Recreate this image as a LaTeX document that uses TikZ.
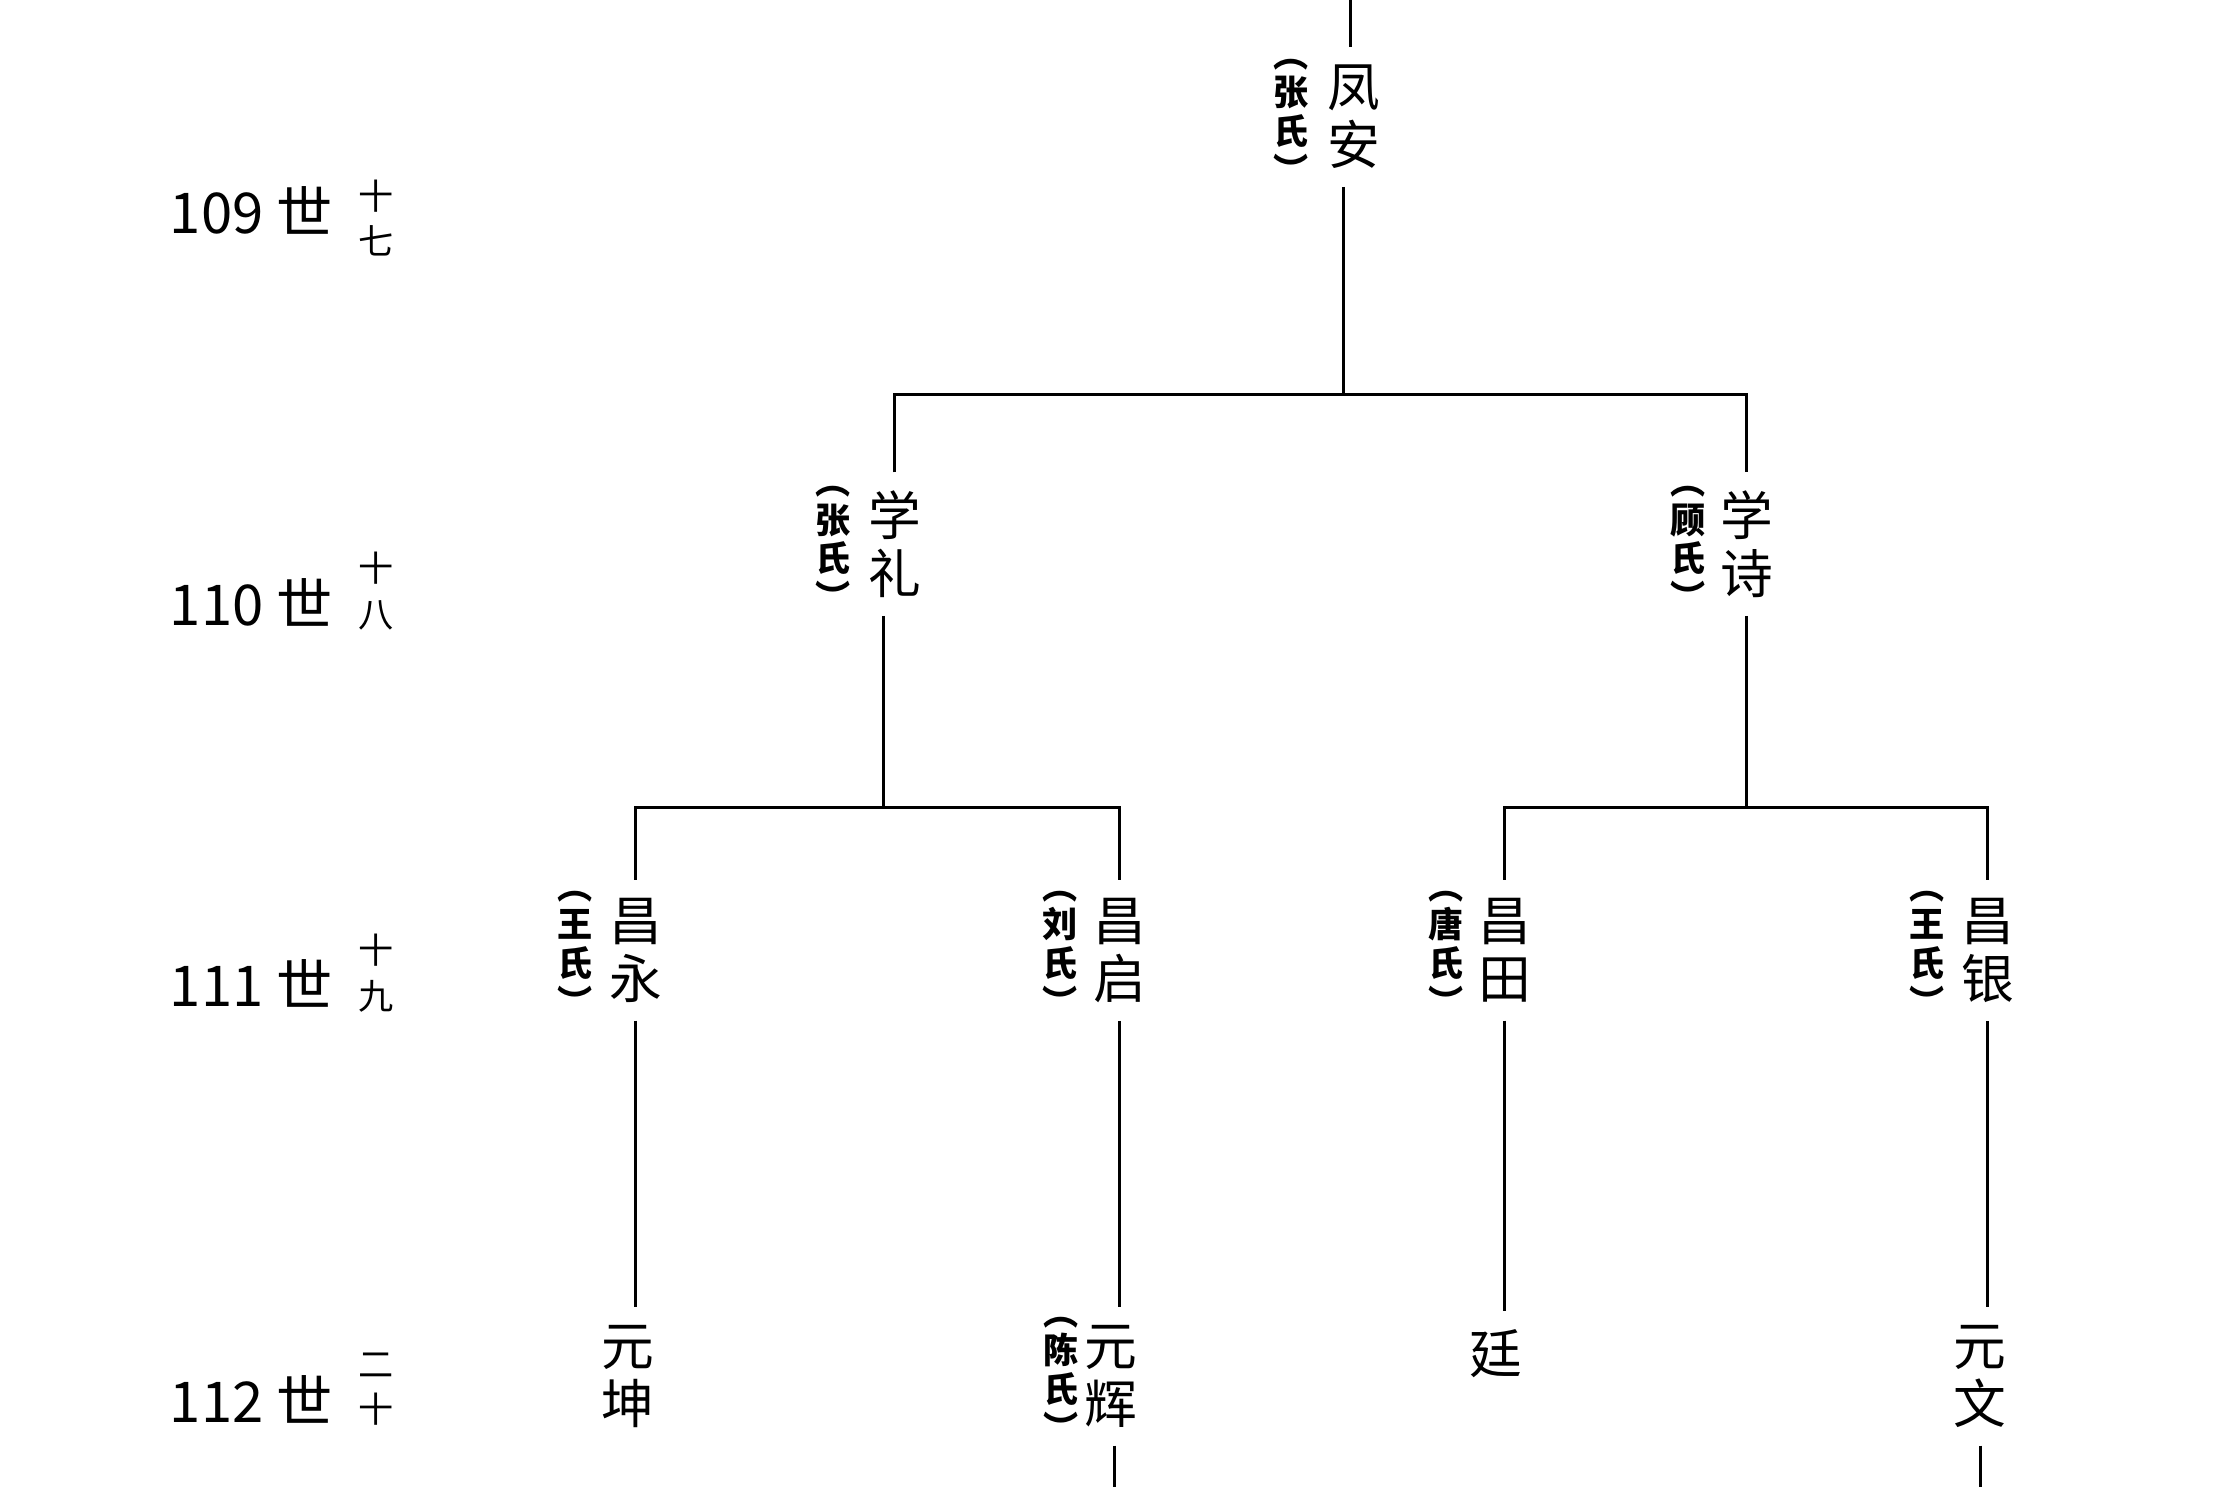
\documentclass[tikz,border=0pt]{standalone}
\usepackage{fontspec}
\setmainfont{Noto Sans CJK SC}
\tikzset{
    person/.style={align=center, inner xsep=2pt, inner ysep=5pt, font=\fontsize{15}{16.5}\selectfont},
    spouse/.style={align=center, inner sep=1pt, font=\fontsize{10}{11}\selectfont\bfseries},
    gen/.style={anchor=east, font=\fontsize{16}{18}\selectfont},
    genno/.style={align=center, inner sep=0pt, font=\fontsize{10}{13}\selectfont},
    link/.style={line width=0.9pt}
}
\begin{document}
\begin{tikzpicture}[x=0.14246mm, y=-0.14246mm]
    \useasboundingbox (0,0) rectangle (1566,1044);

    % generation labels
    \node[gen] (g109) at (242,148) {109 世};
    \node[genno] (n109) at (264,153) {十\\七};
    \node[gen] (g110) at (242,423) {110 世};
    \node[genno] (n110) at (264,415) {十\\八};
    \node[gen] (g111) at (242,690) {111 世};
    \node[genno] (n111) at (264,683) {十\\九};
    \node[gen] (g112) at (242,982) {112 世};
    \node[genno] (n112) at (264,975) {二\\十};

    % people
    \node[person] (fengan) at (950,82) {凤\\安};
    \node[spouse] (fengans) at (906,85) {︵\\张\\氏\\︶};
    \node[person] (xueli) at (628,382) {学\\礼};
    \node[spouse] (xuelis) at (585,385) {︵\\张\\氏\\︶};
    \node[person] (xueshi) at (1226,382) {学\\诗};
    \node[spouse] (xueshis) at (1185,385) {︵\\顾\\氏\\︶};
    \node[person] (changyong) at (446,667) {昌\\永};
    \node[spouse] (changyongs) at (404,669) {︵\\王\\氏\\︶};
    \node[person] (changqi) at (786,667) {昌\\启};
    \node[spouse] (changqis) at (744,669) {︵\\刘\\氏\\︶};
    \node[person] (changtian) at (1056,667) {昌\\田};
    \node[spouse] (changtians) at (1015,669) {︵\\唐\\氏\\︶};
    \node[person] (changyin) at (1395,667) {昌\\银};
    \node[spouse] (changyins) at (1353,669) {︵\\王\\氏\\︶};
    \node[person] (yuankun) at (441,966) {元\\坤};
    \node[person] (yuanhui) at (780,966) {元\\辉};
    \node[spouse] (yuanhuis) at (745,968) {︵\\陈\\氏\\︶};
    \node[person] (ting) at (1050,950) {廷};
    \node[person] (yuanwen) at (1390,966) {元\\文};

    \coordinate (top) at (948,0);
    \coordinate (bar1) at (943,277);
    \coordinate (bar2) at (620,567);
    \coordinate (bar3) at (1226,567);
    \coordinate (endhui) at (782,1044);
    \coordinate (endwen) at (1390,1044);

    % connectors
    \draw[link] (top) -- (top |- fengan.north);
    \draw[link] (fengan.south -| bar1) -- (bar1);
    \draw[link] (xueli.north) -- (xueli.north |- bar1) -- (xueshi.north |- bar1) -- (xueshi.north);
    \draw[link] (xueli.south -| bar2) -- (bar2);
    \draw[link] (changyong.north) -- (changyong.north |- bar2) -- (changqi.north |- bar2) -- (changqi.north);
    \draw[link] (xueshi.south) -- (bar3);
    \draw[link] (changtian.north) -- (changtian.north |- bar3) -- (changyin.north |- bar3) -- (changyin.north);
    \draw[link] (changyong.south) -- (changyong.south |- yuankun.north);
    \draw[link] (changqi.south) -- (changqi.south |- yuanhui.north);
    \draw[link] (changtian.south) -- (changtian.south |- ting.north);
    \draw[link] (changyin.south) -- (changyin.south |- yuanwen.north);
    \draw[link] (yuanhui.south -| endhui) -- (endhui);
    \draw[link] (yuanwen.south) -- (endwen);
\end{tikzpicture}
\end{document}
